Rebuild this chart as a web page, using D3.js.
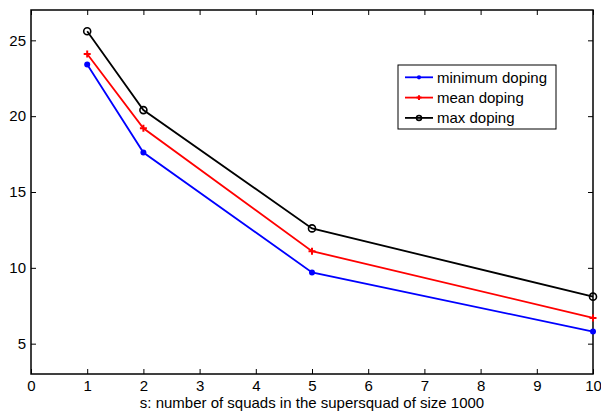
<!DOCTYPE html>
<html>
<head>
<meta charset="utf-8">
<script src="https://cdn.jsdelivr.net/npm/d3@7/dist/d3.min.js"></script>
<style>
  html, body { margin: 0; padding: 0; background: #fff; }
  svg { display: block; font-family: "Liberation Sans", Arial, sans-serif; }
</style>
</head>
<body>
<svg id="chart" width="601" height="411"></svg>
<script>
// Number of squads in the supersquad
const squads = [1, 2, 5, 10];
// Doping values per squad count
const minDoping = [23.4, 17.6, 9.7, 5.8];
const meanDoping = [24.1, 19.2, 11.1, 6.7];
const maxDoping = [25.6, 20.4, 12.6, 8.1];
const xTicks = [0, 1, 2, 3, 4, 5, 6, 7, 8, 9, 10];
const yTicks = [5, 10, 15, 20, 25];
const seriesNames = ["minimum doping", "mean doping", "max doping"];
const xLabel = "s: number of squads in the supersquad of size 1000";

const svg = d3.select("#chart");
const plotLeft = 31, plotRight = 593, plotTop = 10, plotBottom = 374;
const fontSize = "15px";

const x = d3.scaleLinear().domain([0, 10]).range([plotLeft, plotRight]);
const y = d3.scaleLinear().domain([3, 27]).range([plotBottom, plotTop]);

const series = [
  { name: seriesNames[0], values: minDoping, color: "#0000ff", marker: "dot" },
  { name: seriesNames[1], values: meanDoping, color: "#ff0000", marker: "plus" },
  { name: seriesNames[2], values: maxDoping, color: "#000000", marker: "circle" }
];

// Axes with inward ticks on all four sides
const tickLen = 5;
const gx = svg.append("g").attr("transform", `translate(0,${plotBottom})`)
  .call(d3.axisBottom(x).tickValues(xTicks).tickSize(-tickLen).tickPadding(6).tickFormat(d3.format("d")));
const gy = svg.append("g").attr("transform", `translate(${plotLeft},0)`)
  .call(d3.axisLeft(y).tickValues(yTicks).tickSize(-tickLen).tickPadding(5).tickFormat(d3.format("d")));
const gxt = svg.append("g").attr("transform", `translate(0,${plotTop})`)
  .call(d3.axisTop(x).tickValues(xTicks).tickSize(-tickLen).tickFormat(""));
const gyr = svg.append("g").attr("transform", `translate(${plotRight},0)`)
  .call(d3.axisRight(y).tickValues(yTicks).tickSize(-tickLen).tickFormat(""));

[gx, gy, gxt, gyr].forEach(g => {
  g.select(".domain").remove();
  g.selectAll(".tick line").attr("stroke", "#000").attr("stroke-width", 1);
  g.selectAll(".tick text").attr("fill", "#000").style("font-size", fontSize)
    .style("font-family", "'Liberation Sans', Arial, sans-serif");
});

svg.append("rect")
  .attr("x", plotLeft).attr("y", plotTop)
  .attr("width", plotRight - plotLeft).attr("height", plotBottom - plotTop)
  .attr("fill", "none").attr("stroke", "#000").attr("stroke-width", 1.5);

svg.append("text")
  .attr("x", (plotLeft + plotRight) / 2).attr("y", 408)
  .attr("text-anchor", "middle")
  .style("font-size", fontSize)
  .text(xLabel);

const line = d3.line().x((d, i) => x(squads[i])).y(d => y(d));

function drawMarker(g, kind, color, cx, cy, scale = 1) {
  if (kind === "dot") {
    g.append("circle").attr("cx", cx).attr("cy", cy).attr("r", 3 * scale).attr("fill", color);
  } else if (kind === "plus") {
    const h = 3.5 * scale;
    g.append("path").attr("d", `M${cx - h},${cy}H${cx + h}M${cx},${cy - h}V${cy + h}`)
      .attr("stroke", color).attr("stroke-width", 2);
  } else {
    g.append("circle").attr("cx", cx).attr("cy", cy).attr("r", 3.5 * scale)
      .attr("fill", "none").attr("stroke", color).attr("stroke-width", 1.6);
  }
}

series.forEach(s => {
  const g = svg.append("g");
  g.append("path").datum(s.values).attr("d", line)
    .attr("fill", "none").attr("stroke", s.color).attr("stroke-width", 1.8);
  s.values.forEach((v, i) => drawMarker(g, s.marker, s.color, x(squads[i]), y(v)));
});

// Legend
const lg = svg.append("g");
lg.append("rect").attr("x", 398).attr("y", 65).attr("width", 158).attr("height", 64)
  .attr("fill", "#fff").attr("stroke", "#000").attr("stroke-width", 1);
series.forEach((s, i) => {
  const ly = 77.3 + i * 20.3;
  lg.append("line").attr("x1", 405).attr("x2", 433).attr("y1", ly).attr("y2", ly)
    .attr("stroke", s.color).attr("stroke-width", 1.8);
  drawMarker(lg, s.marker, s.color, 419, ly, 0.7);
  lg.append("text").attr("x", 437).attr("y", ly + 5.3)
    .style("font-size", fontSize).text(s.name);
});
</script>
</body>
</html>
